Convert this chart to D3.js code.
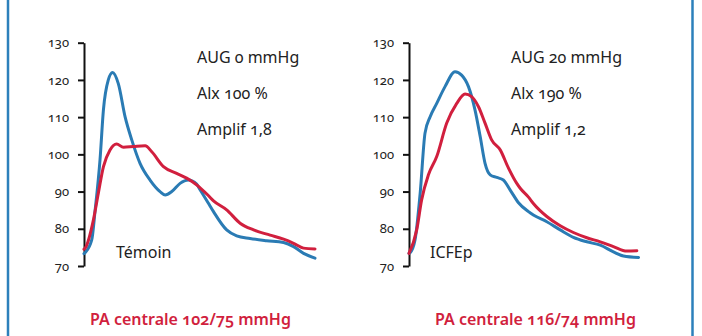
<!DOCTYPE html>
<html>
  <head>
    <meta charset="utf-8">
    <title>PA centrale</title>
    <script src="https://d3js.org/d3.v7.min.js"></script>
    <style>
      body { margin: 0; background: #fff; }
      svg { display: block; font-family: "Noto Sans", "Open Sans", sans-serif; font-variant-numeric: oldstyle-nums; }
      .axis path, .axis line { stroke: #111; stroke-width: 2; }
      .axis text { font-family: "Noto Sans", sans-serif; font-size: 13px; fill: #222; font-variant-numeric: oldstyle-nums; }
      .plot { fill: none; stroke-width: 3; stroke-linejoin: round; stroke-linecap: round; }
      .info { font-size: 16px; fill: #222; }
      .footer { font-size: 16px; fill: #d11f3e; font-weight: 600; }
    </style>
  </head>
  <body>
    <svg id="chart" width="702" height="336"></svg>
    <script>
      // pressure ticks (mmHg)
      yTicks = [70, 80, 90, 100, 110, 120, 130];

      // Témoin: time (ms) and pressure (mmHg)
      temoinBlueT = [0, 4, 27, 39, 56, 68, 85, 100, 120, 144, 167, 196, 231, 266, 284, 307, 336, 365, 394, 406, 434, 453, 499, 534, 581, 639, 698, 733, 768, 808];
      temoinBlueP = [73.3, 73.6, 77, 85, 98.5, 112, 120, 122, 119, 110, 103.9, 97.6, 93.1, 90, 89.1, 90, 92.2, 93.1, 92, 90.5, 87, 84.6, 79.7, 78.1, 77.4, 76.8, 76.3, 75.2, 73.4, 72.1];
      temoinRedT = [0, 4, 33, 50, 68, 91, 114, 138, 173, 214, 237, 278, 324, 359, 394, 406, 434, 453, 499, 546, 593, 651, 698, 733, 768, 808];
      temoinRedP = [74.5, 74.8, 82.4, 89.5, 96.7, 101.2, 102.8, 101.9, 102.1, 102.3, 100.7, 96.7, 94.9, 93.6, 91.8, 91, 89, 87.5, 85.1, 81.5, 79.7, 78.3, 77.2, 76.1, 74.8, 74.6];

      // ICFEp
      icfepBlueT = [0, 4, 21, 39, 56, 74, 97, 126, 161, 184, 208, 231, 249, 266, 284, 307, 330, 354, 383, 418, 435, 482, 529, 575, 622, 669, 715, 750, 803];
      icfepBlueP = [73.4, 73.6, 77, 89.5, 105.7, 110.1, 113.7, 118.2, 122.2, 121.3, 118.2, 111.9, 104.8, 97.6, 94.5, 93.8, 93.1, 90.4, 87, 84.6, 83.7, 81.9, 79.7, 77.7, 76.5, 75.6, 73.8, 72.7, 72.3];
      icfepRedT = [0, 27, 44, 68, 97, 132, 167, 196, 219, 243, 266, 289, 319, 348, 377, 389, 418, 435, 482, 529, 575, 622, 669, 715, 762, 797];
      icfepRedP = [73.4, 79.7, 87.7, 94.5, 99.4, 108.4, 113.7, 116.2, 115.5, 112.8, 108.4, 103.9, 101.2, 96.3, 92.2, 90.9, 88.5, 86.8, 83.3, 80.8, 79, 77.6, 76.5, 75.2, 74, 74.1];

      panels = [
        { x0: 84, label: "Témoin", info: ["AUG 0 mmHg", "Alx 100 %", "Amplif 1,8"], pa: "PA centrale 102/75 mmHg",
          blue: [temoinBlueT, temoinBlueP], red: [temoinRedT, temoinRedP] },
        { x0: 409, label: "ICFEp", info: ["AUG 20 mmHg", "Alx 190 %", "Amplif 1,2"], pa: "PA centrale 116/74 mmHg",
          blue: [icfepBlueT, icfepBlueP], red: [icfepRedT, icfepRedP] }
      ];

      chart = d3.select("#chart");
      blue = "#2a7bb4";
      red = "#d11f3e";

      // frame sides
      chart.append("line").attr("x1", 8).attr("x2", 8).attr("y1", 0).attr("y2", 336)
        .attr("stroke", "#2c80bb").attr("stroke-width", 2.5);
      chart.append("line").attr("x1", 692.5).attr("x2", 692.5).attr("y1", 0).attr("y2", 336)
        .attr("stroke", "#2c80bb").attr("stroke-width", 2.5);

      y = d3.scaleLinear().domain([70, 130]).range([266, 42.7]);

      function toPoints(s) {
        return s[0].map(function(t, i) { return { t: t, p: s[1][i] }; });
      }

      panels.forEach(function(panel) {
        let x = d3.scaleLinear().domain([0, 808]).range([panel.x0, panel.x0 + 231]);
        let axis = d3.axisLeft(y).tickValues(yTicks).tickSize(6).tickPadding(9).tickSizeOuter(0);
        chart.append("g").attr("class", "axis")
          .attr("transform", "translate(" + panel.x0 + ",0)")
          .call(axis)
          .attr("font-family", null)
          .attr("font-size", null);
        let line = d3.line()
          .x(function(d) { return x(d.t); })
          .y(function(d) { return y(d.p); })
          .curve(d3.curveMonotoneX);
        chart.append("path").attr("class", "plot").attr("stroke", blue).attr("d", line(toPoints(panel.blue)));
        chart.append("path").attr("class", "plot").attr("stroke", red).attr("d", line(toPoints(panel.red)));
        // measures
        chart.selectAll(null).data(panel.info).enter().append("text")
          .attr("class", "info")
          .attr("x", panel.x0 + (panel.x0 < 200 ? 113 : 102))
          .attr("y", function(d, i) { return 63 + i * 36; })
          .text(function(d) { return d; });
        chart.append("text").attr("class", "info")
          .attr("x", panel.x0 + (panel.x0 < 200 ? 32 : 21)).attr("y", 258)
          .text(panel.label);
        chart.append("text").attr("class", "footer")
          .attr("x", panel.x0 + (panel.x0 < 200 ? 6 : 26)).attr("y", 325)
          .text(panel.pa);
      });
    </script>
  </body>
</html>
